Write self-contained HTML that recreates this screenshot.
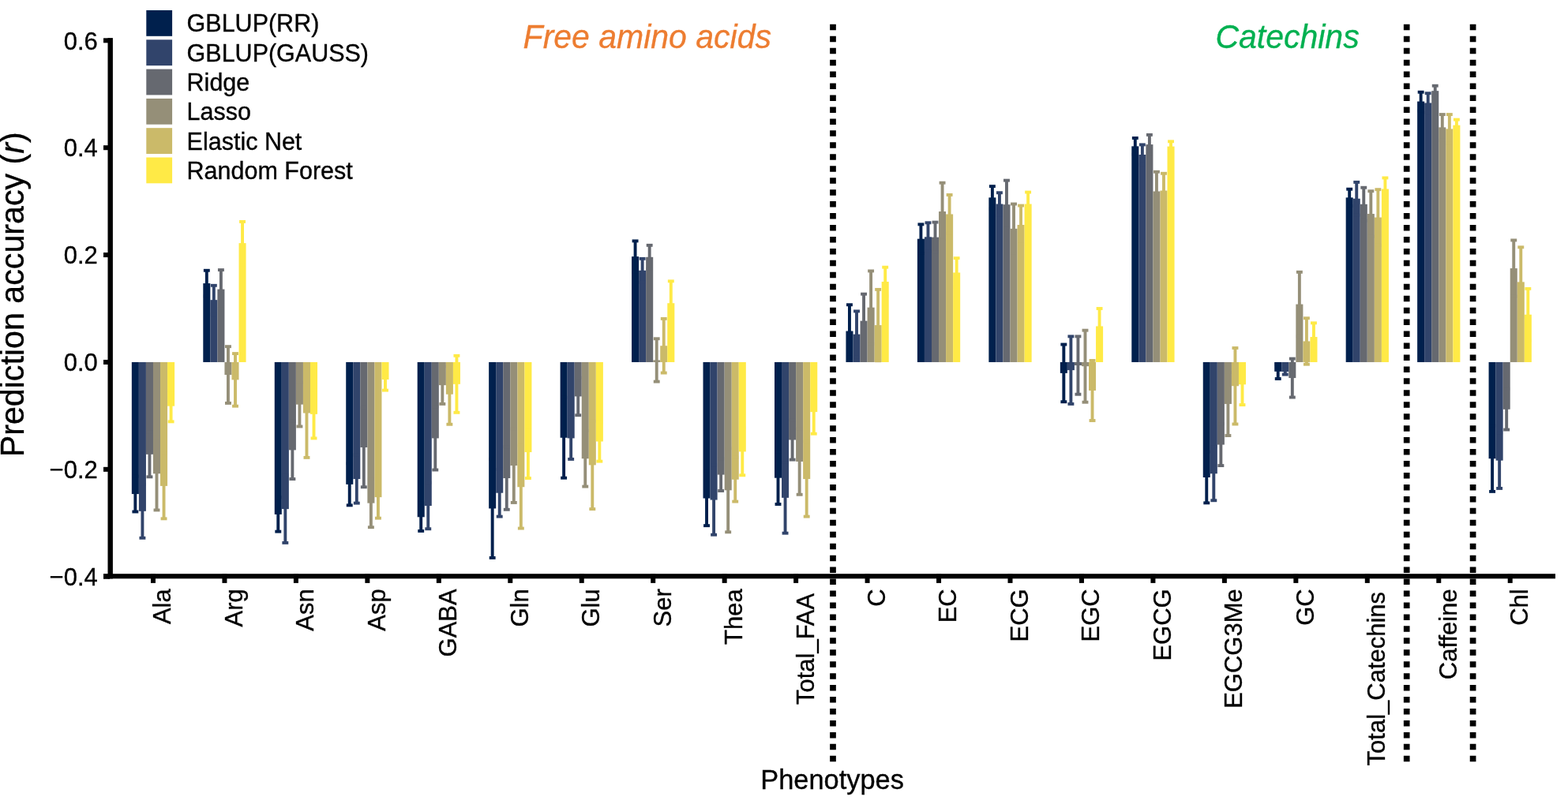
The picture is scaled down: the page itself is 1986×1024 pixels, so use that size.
<!DOCTYPE html>
<html><head><meta charset="utf-8"><title>Prediction accuracy</title>
<style>html,body{margin:0;padding:0;background:#fff;}svg{display:block;}text{font-family:"Liberation Sans",Arial,Helvetica,sans-serif;}</style></head><body>
<svg width="1986" height="1024" viewBox="0 0 1986 1024">
<rect x="0" y="0" width="1986" height="1024" fill="#fff"/>
<g>
<rect x="166.84" y="458.95" width="9.05" height="167.13" fill="#00204D"/>
<rect x="175.88" y="458.95" width="9.05" height="188.87" fill="#31446B"/>
<rect x="184.93" y="458.95" width="9.05" height="116.86" fill="#666970"/>
<rect x="193.98" y="458.95" width="9.05" height="141.32" fill="#958F78"/>
<rect x="203.02" y="458.95" width="9.05" height="156.94" fill="#CBBA69"/>
<rect x="212.07" y="458.95" width="9.05" height="55.71" fill="#FFEA46"/>
<rect x="257.3" y="359.08" width="9.05" height="99.87" fill="#00204D"/>
<rect x="266.34" y="380.14" width="9.05" height="78.81" fill="#31446B"/>
<rect x="275.39" y="366.55" width="9.05" height="92.4" fill="#666970"/>
<rect x="284.44" y="458.95" width="9.05" height="16.1" fill="#958F78"/>
<rect x="293.48" y="458.95" width="9.05" height="22.42" fill="#CBBA69"/>
<rect x="302.53" y="308.12" width="9.05" height="150.83" fill="#FFEA46"/>
<rect x="347.76" y="458.95" width="9.05" height="192.95" fill="#00204D"/>
<rect x="356.8" y="458.95" width="9.05" height="186.16" fill="#31446B"/>
<rect x="365.85" y="458.95" width="9.05" height="111.42" fill="#666970"/>
<rect x="374.9" y="458.95" width="9.05" height="53.67" fill="#958F78"/>
<rect x="383.94" y="458.95" width="9.05" height="64.54" fill="#CBBA69"/>
<rect x="392.99" y="458.95" width="9.05" height="65.9" fill="#FFEA46"/>
<rect x="438.22" y="458.95" width="9.05" height="154.9" fill="#00204D"/>
<rect x="447.26" y="458.95" width="9.05" height="148.11" fill="#31446B"/>
<rect x="456.31" y="458.95" width="9.05" height="108.02" fill="#666970"/>
<rect x="465.36" y="458.95" width="9.05" height="178.68" fill="#958F78"/>
<rect x="474.4" y="458.95" width="9.05" height="171.21" fill="#CBBA69"/>
<rect x="483.45" y="458.95" width="9.05" height="22.08" fill="#FFEA46"/>
<rect x="528.68" y="458.95" width="9.05" height="196.35" fill="#00204D"/>
<rect x="537.72" y="458.95" width="9.05" height="182.08" fill="#31446B"/>
<rect x="546.77" y="458.95" width="9.05" height="96.47" fill="#666970"/>
<rect x="555.82" y="458.95" width="9.05" height="29.21" fill="#958F78"/>
<rect x="564.86" y="458.95" width="9.05" height="40.76" fill="#CBBA69"/>
<rect x="573.91" y="458.95" width="9.05" height="27.86" fill="#FFEA46"/>
<rect x="619.14" y="458.95" width="9.05" height="185.48" fill="#00204D"/>
<rect x="628.18" y="458.95" width="9.05" height="165.77" fill="#31446B"/>
<rect x="637.23" y="458.95" width="9.05" height="147.09" fill="#666970"/>
<rect x="646.28" y="458.95" width="9.05" height="131.12" fill="#958F78"/>
<rect x="655.32" y="458.95" width="9.05" height="158.3" fill="#CBBA69"/>
<rect x="664.37" y="458.95" width="9.05" height="114.14" fill="#FFEA46"/>
<rect x="709.6" y="458.95" width="9.05" height="95.8" fill="#00204D"/>
<rect x="718.64" y="458.95" width="9.05" height="96.47" fill="#31446B"/>
<rect x="727.69" y="458.95" width="9.05" height="43.48" fill="#666970"/>
<rect x="736.74" y="458.95" width="9.05" height="122.29" fill="#958F78"/>
<rect x="745.78" y="458.95" width="9.05" height="130.44" fill="#CBBA69"/>
<rect x="754.83" y="458.95" width="9.05" height="100.55" fill="#FFEA46"/>
<rect x="800.06" y="325.11" width="9.05" height="133.84" fill="#00204D"/>
<rect x="809.1" y="342.77" width="9.05" height="116.18" fill="#31446B"/>
<rect x="818.15" y="325.79" width="9.05" height="133.16" fill="#666970"/>
<rect x="827.2" y="456.44" width="9.05" height="2.51" fill="#958F78"/>
<rect x="836.24" y="438.23" width="9.05" height="20.72" fill="#CBBA69"/>
<rect x="845.29" y="384.22" width="9.05" height="74.73" fill="#FFEA46"/>
<rect x="890.52" y="458.95" width="9.05" height="172.57" fill="#00204D"/>
<rect x="899.56" y="458.95" width="9.05" height="174.61" fill="#31446B"/>
<rect x="908.61" y="458.95" width="9.05" height="142.67" fill="#666970"/>
<rect x="917.66" y="458.95" width="9.05" height="162.38" fill="#958F78"/>
<rect x="926.7" y="458.95" width="9.05" height="148.79" fill="#CBBA69"/>
<rect x="935.75" y="458.95" width="9.05" height="113.46" fill="#FFEA46"/>
<rect x="980.98" y="458.95" width="9.05" height="146.75" fill="#00204D"/>
<rect x="990.02" y="458.95" width="9.05" height="171.89" fill="#31446B"/>
<rect x="999.07" y="458.95" width="9.05" height="98.51" fill="#666970"/>
<rect x="1008.12" y="458.95" width="9.05" height="126.03" fill="#958F78"/>
<rect x="1017.16" y="458.95" width="9.05" height="148.11" fill="#CBBA69"/>
<rect x="1026.21" y="458.95" width="9.05" height="63.18" fill="#FFEA46"/>
<rect x="1071.44" y="419.54" width="9.05" height="39.41" fill="#00204D"/>
<rect x="1080.48" y="423.62" width="9.05" height="35.33" fill="#31446B"/>
<rect x="1089.53" y="406.64" width="9.05" height="52.31" fill="#666970"/>
<rect x="1098.58" y="389.65" width="9.05" height="69.3" fill="#958F78"/>
<rect x="1107.62" y="412.07" width="9.05" height="46.88" fill="#CBBA69"/>
<rect x="1116.67" y="357.04" width="9.05" height="101.91" fill="#FFEA46"/>
<rect x="1161.9" y="302.69" width="9.05" height="156.26" fill="#00204D"/>
<rect x="1170.94" y="300.31" width="9.05" height="158.64" fill="#31446B"/>
<rect x="1179.99" y="300.65" width="9.05" height="158.3" fill="#666970"/>
<rect x="1189.04" y="268.04" width="9.05" height="190.91" fill="#958F78"/>
<rect x="1198.08" y="271.44" width="9.05" height="187.51" fill="#CBBA69"/>
<rect x="1207.13" y="345.49" width="9.05" height="113.46" fill="#FFEA46"/>
<rect x="1252.36" y="250.37" width="9.05" height="208.58" fill="#00204D"/>
<rect x="1261.4" y="258.53" width="9.05" height="200.42" fill="#31446B"/>
<rect x="1270.45" y="259.21" width="9.05" height="199.74" fill="#666970"/>
<rect x="1279.5" y="289.78" width="9.05" height="169.17" fill="#958F78"/>
<rect x="1288.54" y="285.02" width="9.05" height="173.93" fill="#CBBA69"/>
<rect x="1297.59" y="258.53" width="9.05" height="200.42" fill="#FFEA46"/>
<rect x="1342.82" y="458.95" width="9.05" height="13.93" fill="#00204D"/>
<rect x="1351.86" y="458.95" width="9.05" height="10.19" fill="#31446B"/>
<rect x="1360.91" y="458.95" width="9.05" height="4.08" fill="#666970"/>
<rect x="1369.96" y="458.95" width="9.05" height="5.23" fill="#958F78"/>
<rect x="1379" y="458.95" width="9.05" height="36.01" fill="#CBBA69"/>
<rect x="1388.05" y="413.43" width="9.05" height="45.52" fill="#FFEA46"/>
<rect x="1433.28" y="185.36" width="9.05" height="273.59" fill="#00204D"/>
<rect x="1442.32" y="196.02" width="9.05" height="262.93" fill="#31446B"/>
<rect x="1451.37" y="183.11" width="9.05" height="275.84" fill="#666970"/>
<rect x="1460.42" y="242.49" width="9.05" height="216.46" fill="#958F78"/>
<rect x="1469.46" y="241.54" width="9.05" height="217.41" fill="#CBBA69"/>
<rect x="1478.51" y="185.56" width="9.05" height="273.39" fill="#FFEA46"/>
<rect x="1523.74" y="458.95" width="9.05" height="146.07" fill="#00204D"/>
<rect x="1532.78" y="458.95" width="9.05" height="141.32" fill="#31446B"/>
<rect x="1541.83" y="458.95" width="9.05" height="104.63" fill="#666970"/>
<rect x="1550.88" y="458.95" width="9.05" height="52.99" fill="#958F78"/>
<rect x="1559.92" y="458.95" width="9.05" height="30.3" fill="#CBBA69"/>
<rect x="1568.97" y="458.95" width="9.05" height="28.33" fill="#FFEA46"/>
<rect x="1614.2" y="458.95" width="9.05" height="11.89" fill="#00204D"/>
<rect x="1623.24" y="458.95" width="9.05" height="12.23" fill="#31446B"/>
<rect x="1632.29" y="458.95" width="9.05" height="20.11" fill="#666970"/>
<rect x="1641.34" y="385.57" width="9.05" height="73.38" fill="#958F78"/>
<rect x="1650.38" y="432.45" width="9.05" height="26.5" fill="#CBBA69"/>
<rect x="1659.43" y="427.02" width="9.05" height="31.93" fill="#FFEA46"/>
<rect x="1704.66" y="250.37" width="9.05" height="208.58" fill="#00204D"/>
<rect x="1713.7" y="251.73" width="9.05" height="207.22" fill="#31446B"/>
<rect x="1722.75" y="258.8" width="9.05" height="200.15" fill="#666970"/>
<rect x="1731.8" y="271.03" width="9.05" height="187.92" fill="#958F78"/>
<rect x="1740.84" y="275.51" width="9.05" height="183.44" fill="#CBBA69"/>
<rect x="1749.89" y="239.5" width="9.05" height="219.45" fill="#FFEA46"/>
<rect x="1795.12" y="128.56" width="9.05" height="330.39" fill="#00204D"/>
<rect x="1804.16" y="130.46" width="9.05" height="328.49" fill="#31446B"/>
<rect x="1813.21" y="115.17" width="9.05" height="343.78" fill="#666970"/>
<rect x="1822.26" y="161.37" width="9.05" height="297.58" fill="#958F78"/>
<rect x="1831.3" y="163.41" width="9.05" height="295.54" fill="#CBBA69"/>
<rect x="1840.35" y="158.66" width="9.05" height="300.29" fill="#FFEA46"/>
<rect x="1885.58" y="458.95" width="9.05" height="122.29" fill="#00204D"/>
<rect x="1894.62" y="458.95" width="9.05" height="124.67" fill="#31446B"/>
<rect x="1903.67" y="458.95" width="9.05" height="59.79" fill="#666970"/>
<rect x="1912.72" y="340.06" width="9.05" height="118.89" fill="#958F78"/>
<rect x="1921.76" y="357.38" width="9.05" height="101.57" fill="#CBBA69"/>
<rect x="1930.81" y="398.69" width="9.05" height="60.26" fill="#FFEA46"/>
</g>
<g>
<rect x="169.41" y="603.66" width="3.9" height="44.84" fill="#00204D"/>
<rect x="167.41" y="601.71" width="7.9" height="3.9" fill="#00204D"/>
<rect x="167.41" y="646.55" width="7.9" height="3.9" fill="#00204D"/>
<rect x="178.46" y="613.85" width="3.9" height="67.94" fill="#31446B"/>
<rect x="176.46" y="611.9" width="7.9" height="3.9" fill="#31446B"/>
<rect x="176.46" y="679.84" width="7.9" height="3.9" fill="#31446B"/>
<rect x="187.5" y="547.27" width="3.9" height="57.07" fill="#666970"/>
<rect x="185.5" y="545.32" width="7.9" height="3.9" fill="#666970"/>
<rect x="185.5" y="602.39" width="7.9" height="3.9" fill="#666970"/>
<rect x="196.55" y="554.07" width="3.9" height="92.4" fill="#958F78"/>
<rect x="194.55" y="552.12" width="7.9" height="3.9" fill="#958F78"/>
<rect x="194.55" y="644.51" width="7.9" height="3.9" fill="#958F78"/>
<rect x="205.59" y="574.45" width="3.9" height="82.89" fill="#CBBA69"/>
<rect x="203.59" y="572.5" width="7.9" height="3.9" fill="#CBBA69"/>
<rect x="203.59" y="655.38" width="7.9" height="3.9" fill="#CBBA69"/>
<rect x="214.64" y="494.96" width="3.9" height="39.41" fill="#FFEA46"/>
<rect x="212.64" y="493.01" width="7.9" height="3.9" fill="#FFEA46"/>
<rect x="212.64" y="532.41" width="7.9" height="3.9" fill="#FFEA46"/>
<rect x="259.87" y="342.77" width="3.9" height="32.61" fill="#00204D"/>
<rect x="257.87" y="340.82" width="7.9" height="3.9" fill="#00204D"/>
<rect x="257.87" y="373.43" width="7.9" height="3.9" fill="#00204D"/>
<rect x="268.92" y="361.8" width="3.9" height="36.69" fill="#31446B"/>
<rect x="266.92" y="359.85" width="7.9" height="3.9" fill="#31446B"/>
<rect x="266.92" y="396.53" width="7.9" height="3.9" fill="#31446B"/>
<rect x="277.96" y="342.09" width="3.9" height="48.92" fill="#666970"/>
<rect x="275.96" y="340.14" width="7.9" height="3.9" fill="#666970"/>
<rect x="275.96" y="389.06" width="7.9" height="3.9" fill="#666970"/>
<rect x="287.01" y="439.18" width="3.9" height="71.74" fill="#958F78"/>
<rect x="285.01" y="437.23" width="7.9" height="3.9" fill="#958F78"/>
<rect x="285.01" y="508.97" width="7.9" height="3.9" fill="#958F78"/>
<rect x="296.06" y="448.08" width="3.9" height="66.58" fill="#CBBA69"/>
<rect x="294.06" y="446.13" width="7.9" height="3.9" fill="#CBBA69"/>
<rect x="294.06" y="512.71" width="7.9" height="3.9" fill="#CBBA69"/>
<rect x="305.1" y="280.95" width="3.9" height="54.35" fill="#FFEA46"/>
<rect x="303.1" y="279" width="7.9" height="3.9" fill="#FFEA46"/>
<rect x="303.1" y="333.35" width="7.9" height="3.9" fill="#FFEA46"/>
<rect x="350.33" y="630.16" width="3.9" height="43.48" fill="#00204D"/>
<rect x="348.33" y="628.21" width="7.9" height="3.9" fill="#00204D"/>
<rect x="348.33" y="671.69" width="7.9" height="3.9" fill="#00204D"/>
<rect x="359.38" y="602.3" width="3.9" height="85.6" fill="#31446B"/>
<rect x="357.38" y="600.35" width="7.9" height="3.9" fill="#31446B"/>
<rect x="357.38" y="685.96" width="7.9" height="3.9" fill="#31446B"/>
<rect x="368.42" y="533.68" width="3.9" height="73.38" fill="#666970"/>
<rect x="366.42" y="531.73" width="7.9" height="3.9" fill="#666970"/>
<rect x="366.42" y="605.11" width="7.9" height="3.9" fill="#666970"/>
<rect x="377.47" y="484.77" width="3.9" height="55.71" fill="#958F78"/>
<rect x="375.47" y="482.82" width="7.9" height="3.9" fill="#958F78"/>
<rect x="375.47" y="538.53" width="7.9" height="3.9" fill="#958F78"/>
<rect x="386.52" y="467.1" width="3.9" height="112.78" fill="#CBBA69"/>
<rect x="384.52" y="465.15" width="7.9" height="3.9" fill="#CBBA69"/>
<rect x="384.52" y="577.93" width="7.9" height="3.9" fill="#CBBA69"/>
<rect x="395.56" y="494.28" width="3.9" height="61.15" fill="#FFEA46"/>
<rect x="393.56" y="492.33" width="7.9" height="3.9" fill="#FFEA46"/>
<rect x="393.56" y="553.47" width="7.9" height="3.9" fill="#FFEA46"/>
<rect x="440.79" y="587.36" width="3.9" height="52.99" fill="#00204D"/>
<rect x="438.79" y="585.41" width="7.9" height="3.9" fill="#00204D"/>
<rect x="438.79" y="638.4" width="7.9" height="3.9" fill="#00204D"/>
<rect x="449.84" y="576.49" width="3.9" height="61.15" fill="#31446B"/>
<rect x="447.84" y="574.54" width="7.9" height="3.9" fill="#31446B"/>
<rect x="447.84" y="635.68" width="7.9" height="3.9" fill="#31446B"/>
<rect x="458.88" y="516.7" width="3.9" height="100.55" fill="#666970"/>
<rect x="456.88" y="514.75" width="7.9" height="3.9" fill="#666970"/>
<rect x="456.88" y="615.3" width="7.9" height="3.9" fill="#666970"/>
<rect x="467.93" y="607.06" width="3.9" height="61.15" fill="#958F78"/>
<rect x="465.93" y="605.11" width="7.9" height="3.9" fill="#958F78"/>
<rect x="465.93" y="666.26" width="7.9" height="3.9" fill="#958F78"/>
<rect x="476.98" y="603.66" width="3.9" height="52.99" fill="#CBBA69"/>
<rect x="474.98" y="601.71" width="7.9" height="3.9" fill="#CBBA69"/>
<rect x="474.98" y="654.71" width="7.9" height="3.9" fill="#CBBA69"/>
<rect x="486.02" y="467.44" width="3.9" height="27.18" fill="#FFEA46"/>
<rect x="484.02" y="465.49" width="7.9" height="3.9" fill="#FFEA46"/>
<rect x="484.02" y="492.67" width="7.9" height="3.9" fill="#FFEA46"/>
<rect x="531.25" y="637.63" width="3.9" height="35.33" fill="#00204D"/>
<rect x="529.25" y="635.68" width="7.9" height="3.9" fill="#00204D"/>
<rect x="529.25" y="671.01" width="7.9" height="3.9" fill="#00204D"/>
<rect x="540.3" y="611.82" width="3.9" height="58.43" fill="#31446B"/>
<rect x="538.3" y="609.87" width="7.9" height="3.9" fill="#31446B"/>
<rect x="538.3" y="668.29" width="7.9" height="3.9" fill="#31446B"/>
<rect x="549.34" y="515.34" width="3.9" height="80.17" fill="#666970"/>
<rect x="547.34" y="513.39" width="7.9" height="3.9" fill="#666970"/>
<rect x="547.34" y="593.56" width="7.9" height="3.9" fill="#666970"/>
<rect x="558.39" y="464.39" width="3.9" height="47.56" fill="#958F78"/>
<rect x="556.39" y="462.44" width="7.9" height="3.9" fill="#958F78"/>
<rect x="556.39" y="509.99" width="7.9" height="3.9" fill="#958F78"/>
<rect x="567.43" y="461.67" width="3.9" height="76.09" fill="#CBBA69"/>
<rect x="565.43" y="459.72" width="7.9" height="3.9" fill="#CBBA69"/>
<rect x="565.43" y="535.81" width="7.9" height="3.9" fill="#CBBA69"/>
<rect x="576.48" y="450.8" width="3.9" height="72.02" fill="#FFEA46"/>
<rect x="574.48" y="448.85" width="7.9" height="3.9" fill="#FFEA46"/>
<rect x="574.48" y="520.86" width="7.9" height="3.9" fill="#FFEA46"/>
<rect x="621.71" y="581.92" width="3.9" height="125.01" fill="#00204D"/>
<rect x="619.71" y="579.97" width="7.9" height="3.9" fill="#00204D"/>
<rect x="619.71" y="704.98" width="7.9" height="3.9" fill="#00204D"/>
<rect x="630.76" y="594.83" width="3.9" height="59.79" fill="#31446B"/>
<rect x="628.76" y="592.88" width="7.9" height="3.9" fill="#31446B"/>
<rect x="628.76" y="652.67" width="7.9" height="3.9" fill="#31446B"/>
<rect x="639.8" y="566.3" width="3.9" height="79.49" fill="#666970"/>
<rect x="637.8" y="564.35" width="7.9" height="3.9" fill="#666970"/>
<rect x="637.8" y="643.83" width="7.9" height="3.9" fill="#666970"/>
<rect x="648.85" y="543.2" width="3.9" height="93.76" fill="#958F78"/>
<rect x="646.85" y="541.25" width="7.9" height="3.9" fill="#958F78"/>
<rect x="646.85" y="635" width="7.9" height="3.9" fill="#958F78"/>
<rect x="657.89" y="564.94" width="3.9" height="104.63" fill="#CBBA69"/>
<rect x="655.89" y="562.99" width="7.9" height="3.9" fill="#CBBA69"/>
<rect x="655.89" y="667.61" width="7.9" height="3.9" fill="#CBBA69"/>
<rect x="666.94" y="540.14" width="3.9" height="65.9" fill="#FFEA46"/>
<rect x="664.94" y="538.19" width="7.9" height="3.9" fill="#FFEA46"/>
<rect x="664.94" y="604.09" width="7.9" height="3.9" fill="#FFEA46"/>
<rect x="712.17" y="503.79" width="3.9" height="101.91" fill="#00204D"/>
<rect x="710.17" y="501.84" width="7.9" height="3.9" fill="#00204D"/>
<rect x="710.17" y="603.75" width="7.9" height="3.9" fill="#00204D"/>
<rect x="721.22" y="528.93" width="3.9" height="52.99" fill="#31446B"/>
<rect x="719.22" y="526.98" width="7.9" height="3.9" fill="#31446B"/>
<rect x="719.22" y="579.97" width="7.9" height="3.9" fill="#31446B"/>
<rect x="730.26" y="478.65" width="3.9" height="47.56" fill="#666970"/>
<rect x="728.26" y="476.7" width="7.9" height="3.9" fill="#666970"/>
<rect x="728.26" y="524.26" width="7.9" height="3.9" fill="#666970"/>
<rect x="739.31" y="545.91" width="3.9" height="70.66" fill="#958F78"/>
<rect x="737.31" y="543.96" width="7.9" height="3.9" fill="#958F78"/>
<rect x="737.31" y="614.62" width="7.9" height="3.9" fill="#958F78"/>
<rect x="748.35" y="533.68" width="3.9" height="111.42" fill="#CBBA69"/>
<rect x="746.35" y="531.73" width="7.9" height="3.9" fill="#CBBA69"/>
<rect x="746.35" y="643.16" width="7.9" height="3.9" fill="#CBBA69"/>
<rect x="757.4" y="534.36" width="3.9" height="50.28" fill="#FFEA46"/>
<rect x="755.4" y="532.41" width="7.9" height="3.9" fill="#FFEA46"/>
<rect x="755.4" y="582.69" width="7.9" height="3.9" fill="#FFEA46"/>
<rect x="802.63" y="305.41" width="3.9" height="39.41" fill="#00204D"/>
<rect x="800.63" y="303.46" width="7.9" height="3.9" fill="#00204D"/>
<rect x="800.63" y="342.86" width="7.9" height="3.9" fill="#00204D"/>
<rect x="811.68" y="327.83" width="3.9" height="29.89" fill="#31446B"/>
<rect x="809.68" y="325.88" width="7.9" height="3.9" fill="#31446B"/>
<rect x="809.68" y="355.77" width="7.9" height="3.9" fill="#31446B"/>
<rect x="820.72" y="310.84" width="3.9" height="29.89" fill="#666970"/>
<rect x="818.72" y="308.89" width="7.9" height="3.9" fill="#666970"/>
<rect x="818.72" y="338.78" width="7.9" height="3.9" fill="#666970"/>
<rect x="829.77" y="429.26" width="3.9" height="54.35" fill="#958F78"/>
<rect x="827.77" y="427.31" width="7.9" height="3.9" fill="#958F78"/>
<rect x="827.77" y="481.66" width="7.9" height="3.9" fill="#958F78"/>
<rect x="838.81" y="403.92" width="3.9" height="68.62" fill="#CBBA69"/>
<rect x="836.81" y="401.97" width="7.9" height="3.9" fill="#CBBA69"/>
<rect x="836.81" y="470.59" width="7.9" height="3.9" fill="#CBBA69"/>
<rect x="847.86" y="356.36" width="3.9" height="55.71" fill="#FFEA46"/>
<rect x="845.86" y="354.41" width="7.9" height="3.9" fill="#FFEA46"/>
<rect x="845.86" y="410.12" width="7.9" height="3.9" fill="#FFEA46"/>
<rect x="893.09" y="596.87" width="3.9" height="69.3" fill="#00204D"/>
<rect x="891.09" y="594.92" width="7.9" height="3.9" fill="#00204D"/>
<rect x="891.09" y="664.22" width="7.9" height="3.9" fill="#00204D"/>
<rect x="902.14" y="589.39" width="3.9" height="88.32" fill="#31446B"/>
<rect x="900.14" y="587.44" width="7.9" height="3.9" fill="#31446B"/>
<rect x="900.14" y="675.77" width="7.9" height="3.9" fill="#31446B"/>
<rect x="911.18" y="581.24" width="3.9" height="40.76" fill="#666970"/>
<rect x="909.18" y="579.29" width="7.9" height="3.9" fill="#666970"/>
<rect x="909.18" y="620.06" width="7.9" height="3.9" fill="#666970"/>
<rect x="920.23" y="568.33" width="3.9" height="105.99" fill="#958F78"/>
<rect x="918.23" y="566.38" width="7.9" height="3.9" fill="#958F78"/>
<rect x="918.23" y="672.37" width="7.9" height="3.9" fill="#958F78"/>
<rect x="929.27" y="579.88" width="3.9" height="55.71" fill="#CBBA69"/>
<rect x="927.27" y="577.93" width="7.9" height="3.9" fill="#CBBA69"/>
<rect x="927.27" y="633.64" width="7.9" height="3.9" fill="#CBBA69"/>
<rect x="938.32" y="542.52" width="3.9" height="59.79" fill="#FFEA46"/>
<rect x="936.32" y="540.57" width="7.9" height="3.9" fill="#FFEA46"/>
<rect x="936.32" y="600.35" width="7.9" height="3.9" fill="#FFEA46"/>
<rect x="983.55" y="572.41" width="3.9" height="66.58" fill="#00204D"/>
<rect x="981.55" y="570.46" width="7.9" height="3.9" fill="#00204D"/>
<rect x="981.55" y="637.04" width="7.9" height="3.9" fill="#00204D"/>
<rect x="992.6" y="586" width="3.9" height="89.68" fill="#31446B"/>
<rect x="990.6" y="584.05" width="7.9" height="3.9" fill="#31446B"/>
<rect x="990.6" y="673.73" width="7.9" height="3.9" fill="#31446B"/>
<rect x="1001.64" y="532.33" width="3.9" height="50.28" fill="#666970"/>
<rect x="999.64" y="530.38" width="7.9" height="3.9" fill="#666970"/>
<rect x="999.64" y="580.65" width="7.9" height="3.9" fill="#666970"/>
<rect x="1010.69" y="543.2" width="3.9" height="83.57" fill="#958F78"/>
<rect x="1008.69" y="541.25" width="7.9" height="3.9" fill="#958F78"/>
<rect x="1008.69" y="624.81" width="7.9" height="3.9" fill="#958F78"/>
<rect x="1019.73" y="559.5" width="3.9" height="95.12" fill="#CBBA69"/>
<rect x="1017.73" y="557.55" width="7.9" height="3.9" fill="#CBBA69"/>
<rect x="1017.73" y="652.67" width="7.9" height="3.9" fill="#CBBA69"/>
<rect x="1028.78" y="494.55" width="3.9" height="55.17" fill="#FFEA46"/>
<rect x="1026.78" y="492.6" width="7.9" height="3.9" fill="#FFEA46"/>
<rect x="1026.78" y="547.77" width="7.9" height="3.9" fill="#FFEA46"/>
<rect x="1074.01" y="386.25" width="3.9" height="66.58" fill="#00204D"/>
<rect x="1072.01" y="384.3" width="7.9" height="3.9" fill="#00204D"/>
<rect x="1072.01" y="450.89" width="7.9" height="3.9" fill="#00204D"/>
<rect x="1083.06" y="394.41" width="3.9" height="58.43" fill="#31446B"/>
<rect x="1081.06" y="392.46" width="7.9" height="3.9" fill="#31446B"/>
<rect x="1081.06" y="450.89" width="7.9" height="3.9" fill="#31446B"/>
<rect x="1092.1" y="372.67" width="3.9" height="67.94" fill="#666970"/>
<rect x="1090.1" y="370.72" width="7.9" height="3.9" fill="#666970"/>
<rect x="1090.1" y="438.66" width="7.9" height="3.9" fill="#666970"/>
<rect x="1101.15" y="343.45" width="3.9" height="92.4" fill="#958F78"/>
<rect x="1099.15" y="341.5" width="7.9" height="3.9" fill="#958F78"/>
<rect x="1099.15" y="433.9" width="7.9" height="3.9" fill="#958F78"/>
<rect x="1110.19" y="366.89" width="3.9" height="90.36" fill="#CBBA69"/>
<rect x="1108.19" y="364.94" width="7.9" height="3.9" fill="#CBBA69"/>
<rect x="1108.19" y="455.3" width="7.9" height="3.9" fill="#CBBA69"/>
<rect x="1119.24" y="338.7" width="3.9" height="36.69" fill="#FFEA46"/>
<rect x="1117.24" y="336.75" width="7.9" height="3.9" fill="#FFEA46"/>
<rect x="1117.24" y="373.43" width="7.9" height="3.9" fill="#FFEA46"/>
<rect x="1164.47" y="284.34" width="3.9" height="36.69" fill="#00204D"/>
<rect x="1162.47" y="282.39" width="7.9" height="3.9" fill="#00204D"/>
<rect x="1162.47" y="319.08" width="7.9" height="3.9" fill="#00204D"/>
<rect x="1173.52" y="282.31" width="3.9" height="36.01" fill="#31446B"/>
<rect x="1171.52" y="280.36" width="7.9" height="3.9" fill="#31446B"/>
<rect x="1171.52" y="316.36" width="7.9" height="3.9" fill="#31446B"/>
<rect x="1182.56" y="281.63" width="3.9" height="38.05" fill="#666970"/>
<rect x="1180.56" y="279.68" width="7.9" height="3.9" fill="#666970"/>
<rect x="1180.56" y="317.72" width="7.9" height="3.9" fill="#666970"/>
<rect x="1191.61" y="231.69" width="3.9" height="72.7" fill="#958F78"/>
<rect x="1189.61" y="229.74" width="7.9" height="3.9" fill="#958F78"/>
<rect x="1189.61" y="302.44" width="7.9" height="3.9" fill="#958F78"/>
<rect x="1200.65" y="246.98" width="3.9" height="48.92" fill="#CBBA69"/>
<rect x="1198.65" y="245.03" width="7.9" height="3.9" fill="#CBBA69"/>
<rect x="1198.65" y="293.94" width="7.9" height="3.9" fill="#CBBA69"/>
<rect x="1209.7" y="327.15" width="3.9" height="36.69" fill="#FFEA46"/>
<rect x="1207.7" y="325.2" width="7.9" height="3.9" fill="#FFEA46"/>
<rect x="1207.7" y="361.88" width="7.9" height="3.9" fill="#FFEA46"/>
<rect x="1254.93" y="236.11" width="3.9" height="28.53" fill="#00204D"/>
<rect x="1252.93" y="234.16" width="7.9" height="3.9" fill="#00204D"/>
<rect x="1252.93" y="262.69" width="7.9" height="3.9" fill="#00204D"/>
<rect x="1263.98" y="244.26" width="3.9" height="28.53" fill="#31446B"/>
<rect x="1261.98" y="242.31" width="7.9" height="3.9" fill="#31446B"/>
<rect x="1261.98" y="270.84" width="7.9" height="3.9" fill="#31446B"/>
<rect x="1273.02" y="228.63" width="3.9" height="61.15" fill="#666970"/>
<rect x="1271.02" y="226.68" width="7.9" height="3.9" fill="#666970"/>
<rect x="1271.02" y="287.83" width="7.9" height="3.9" fill="#666970"/>
<rect x="1282.07" y="258.53" width="3.9" height="62.5" fill="#958F78"/>
<rect x="1280.07" y="256.58" width="7.9" height="3.9" fill="#958F78"/>
<rect x="1280.07" y="319.08" width="7.9" height="3.9" fill="#958F78"/>
<rect x="1291.11" y="260.57" width="3.9" height="48.92" fill="#CBBA69"/>
<rect x="1289.11" y="258.62" width="7.9" height="3.9" fill="#CBBA69"/>
<rect x="1289.11" y="307.53" width="7.9" height="3.9" fill="#CBBA69"/>
<rect x="1300.16" y="243.58" width="3.9" height="29.89" fill="#FFEA46"/>
<rect x="1298.16" y="241.63" width="7.9" height="3.9" fill="#FFEA46"/>
<rect x="1298.16" y="271.52" width="7.9" height="3.9" fill="#FFEA46"/>
<rect x="1345.39" y="436.53" width="3.9" height="72.7" fill="#00204D"/>
<rect x="1343.39" y="434.58" width="7.9" height="3.9" fill="#00204D"/>
<rect x="1343.39" y="507.28" width="7.9" height="3.9" fill="#00204D"/>
<rect x="1354.44" y="426.34" width="3.9" height="85.6" fill="#31446B"/>
<rect x="1352.44" y="424.39" width="7.9" height="3.9" fill="#31446B"/>
<rect x="1352.44" y="509.99" width="7.9" height="3.9" fill="#31446B"/>
<rect x="1363.48" y="426.34" width="3.9" height="73.38" fill="#666970"/>
<rect x="1361.48" y="424.39" width="7.9" height="3.9" fill="#666970"/>
<rect x="1361.48" y="497.76" width="7.9" height="3.9" fill="#666970"/>
<rect x="1372.53" y="418.66" width="3.9" height="91.04" fill="#958F78"/>
<rect x="1370.53" y="416.71" width="7.9" height="3.9" fill="#958F78"/>
<rect x="1370.53" y="507.75" width="7.9" height="3.9" fill="#958F78"/>
<rect x="1381.57" y="456.91" width="3.9" height="76.09" fill="#CBBA69"/>
<rect x="1379.57" y="454.96" width="7.9" height="3.9" fill="#CBBA69"/>
<rect x="1379.57" y="531.05" width="7.9" height="3.9" fill="#CBBA69"/>
<rect x="1390.62" y="391.01" width="3.9" height="44.84" fill="#FFEA46"/>
<rect x="1388.62" y="389.06" width="7.9" height="3.9" fill="#FFEA46"/>
<rect x="1388.62" y="433.9" width="7.9" height="3.9" fill="#FFEA46"/>
<rect x="1435.85" y="174.96" width="3.9" height="20.79" fill="#00204D"/>
<rect x="1433.85" y="173.01" width="7.9" height="3.9" fill="#00204D"/>
<rect x="1433.85" y="193.8" width="7.9" height="3.9" fill="#00204D"/>
<rect x="1444.9" y="183.39" width="3.9" height="25.27" fill="#31446B"/>
<rect x="1442.9" y="181.44" width="7.9" height="3.9" fill="#31446B"/>
<rect x="1442.9" y="206.71" width="7.9" height="3.9" fill="#31446B"/>
<rect x="1453.94" y="170.88" width="3.9" height="24.46" fill="#666970"/>
<rect x="1451.94" y="168.93" width="7.9" height="3.9" fill="#666970"/>
<rect x="1451.94" y="193.39" width="7.9" height="3.9" fill="#666970"/>
<rect x="1462.99" y="217.76" width="3.9" height="49.46" fill="#958F78"/>
<rect x="1460.99" y="215.81" width="7.9" height="3.9" fill="#958F78"/>
<rect x="1460.99" y="265.27" width="7.9" height="3.9" fill="#958F78"/>
<rect x="1472.03" y="219.8" width="3.9" height="43.48" fill="#CBBA69"/>
<rect x="1470.03" y="217.85" width="7.9" height="3.9" fill="#CBBA69"/>
<rect x="1470.03" y="261.33" width="7.9" height="3.9" fill="#CBBA69"/>
<rect x="1481.08" y="179.31" width="3.9" height="12.5" fill="#FFEA46"/>
<rect x="1479.08" y="177.36" width="7.9" height="3.9" fill="#FFEA46"/>
<rect x="1479.08" y="189.86" width="7.9" height="3.9" fill="#FFEA46"/>
<rect x="1526.31" y="572.68" width="3.9" height="64.68" fill="#00204D"/>
<rect x="1524.31" y="570.73" width="7.9" height="3.9" fill="#00204D"/>
<rect x="1524.31" y="635.41" width="7.9" height="3.9" fill="#00204D"/>
<rect x="1535.36" y="566.3" width="3.9" height="67.94" fill="#31446B"/>
<rect x="1533.36" y="564.35" width="7.9" height="3.9" fill="#31446B"/>
<rect x="1533.36" y="632.29" width="7.9" height="3.9" fill="#31446B"/>
<rect x="1544.4" y="537.08" width="3.9" height="52.99" fill="#666970"/>
<rect x="1542.4" y="535.13" width="7.9" height="3.9" fill="#666970"/>
<rect x="1542.4" y="588.12" width="7.9" height="3.9" fill="#666970"/>
<rect x="1553.45" y="471.86" width="3.9" height="80.17" fill="#958F78"/>
<rect x="1551.45" y="469.91" width="7.9" height="3.9" fill="#958F78"/>
<rect x="1551.45" y="550.08" width="7.9" height="3.9" fill="#958F78"/>
<rect x="1562.49" y="441.01" width="3.9" height="96.47" fill="#CBBA69"/>
<rect x="1560.49" y="439.06" width="7.9" height="3.9" fill="#CBBA69"/>
<rect x="1560.49" y="535.54" width="7.9" height="3.9" fill="#CBBA69"/>
<rect x="1571.54" y="461.46" width="3.9" height="51.63" fill="#FFEA46"/>
<rect x="1569.54" y="459.51" width="7.9" height="3.9" fill="#FFEA46"/>
<rect x="1569.54" y="511.15" width="7.9" height="3.9" fill="#FFEA46"/>
<rect x="1616.77" y="461.67" width="3.9" height="18.34" fill="#00204D"/>
<rect x="1614.77" y="459.72" width="7.9" height="3.9" fill="#00204D"/>
<rect x="1614.77" y="478.06" width="7.9" height="3.9" fill="#00204D"/>
<rect x="1625.82" y="467.78" width="3.9" height="6.79" fill="#31446B"/>
<rect x="1623.82" y="465.83" width="7.9" height="3.9" fill="#31446B"/>
<rect x="1623.82" y="472.63" width="7.9" height="3.9" fill="#31446B"/>
<rect x="1634.86" y="454.6" width="3.9" height="48.92" fill="#666970"/>
<rect x="1632.86" y="452.65" width="7.9" height="3.9" fill="#666970"/>
<rect x="1632.86" y="501.57" width="7.9" height="3.9" fill="#666970"/>
<rect x="1643.91" y="344.81" width="3.9" height="81.53" fill="#958F78"/>
<rect x="1641.91" y="342.86" width="7.9" height="3.9" fill="#958F78"/>
<rect x="1641.91" y="424.39" width="7.9" height="3.9" fill="#958F78"/>
<rect x="1652.95" y="403.24" width="3.9" height="58.43" fill="#CBBA69"/>
<rect x="1650.95" y="401.29" width="7.9" height="3.9" fill="#CBBA69"/>
<rect x="1650.95" y="459.72" width="7.9" height="3.9" fill="#CBBA69"/>
<rect x="1662" y="409.35" width="3.9" height="35.33" fill="#FFEA46"/>
<rect x="1660" y="407.4" width="7.9" height="3.9" fill="#FFEA46"/>
<rect x="1660" y="442.73" width="7.9" height="3.9" fill="#FFEA46"/>
<rect x="1707.23" y="239.71" width="3.9" height="21.33" fill="#00204D"/>
<rect x="1705.23" y="237.76" width="7.9" height="3.9" fill="#00204D"/>
<rect x="1705.23" y="259.09" width="7.9" height="3.9" fill="#00204D"/>
<rect x="1716.28" y="230.88" width="3.9" height="41.72" fill="#31446B"/>
<rect x="1714.28" y="228.93" width="7.9" height="3.9" fill="#31446B"/>
<rect x="1714.28" y="270.64" width="7.9" height="3.9" fill="#31446B"/>
<rect x="1725.32" y="237.74" width="3.9" height="42.12" fill="#666970"/>
<rect x="1723.32" y="235.79" width="7.9" height="3.9" fill="#666970"/>
<rect x="1723.32" y="277.91" width="7.9" height="3.9" fill="#666970"/>
<rect x="1734.37" y="242.22" width="3.9" height="57.61" fill="#958F78"/>
<rect x="1732.37" y="240.27" width="7.9" height="3.9" fill="#958F78"/>
<rect x="1732.37" y="297.88" width="7.9" height="3.9" fill="#958F78"/>
<rect x="1743.41" y="240.18" width="3.9" height="70.66" fill="#CBBA69"/>
<rect x="1741.41" y="238.23" width="7.9" height="3.9" fill="#CBBA69"/>
<rect x="1741.41" y="308.89" width="7.9" height="3.9" fill="#CBBA69"/>
<rect x="1752.46" y="225.44" width="3.9" height="28.13" fill="#FFEA46"/>
<rect x="1750.46" y="223.49" width="7.9" height="3.9" fill="#FFEA46"/>
<rect x="1750.46" y="251.62" width="7.9" height="3.9" fill="#FFEA46"/>
<rect x="1797.69" y="116.74" width="3.9" height="23.64" fill="#00204D"/>
<rect x="1795.69" y="114.79" width="7.9" height="3.9" fill="#00204D"/>
<rect x="1795.69" y="138.43" width="7.9" height="3.9" fill="#00204D"/>
<rect x="1806.74" y="118.23" width="3.9" height="24.46" fill="#31446B"/>
<rect x="1804.74" y="116.28" width="7.9" height="3.9" fill="#31446B"/>
<rect x="1804.74" y="140.74" width="7.9" height="3.9" fill="#31446B"/>
<rect x="1815.78" y="108.72" width="3.9" height="12.91" fill="#666970"/>
<rect x="1813.78" y="106.77" width="7.9" height="3.9" fill="#666970"/>
<rect x="1813.78" y="119.68" width="7.9" height="3.9" fill="#666970"/>
<rect x="1824.83" y="145.07" width="3.9" height="32.61" fill="#958F78"/>
<rect x="1822.83" y="143.12" width="7.9" height="3.9" fill="#958F78"/>
<rect x="1822.83" y="175.73" width="7.9" height="3.9" fill="#958F78"/>
<rect x="1833.88" y="145.07" width="3.9" height="36.69" fill="#CBBA69"/>
<rect x="1831.88" y="143.12" width="7.9" height="3.9" fill="#CBBA69"/>
<rect x="1831.88" y="179.8" width="7.9" height="3.9" fill="#CBBA69"/>
<rect x="1842.92" y="151.59" width="3.9" height="14.13" fill="#FFEA46"/>
<rect x="1840.92" y="149.64" width="7.9" height="3.9" fill="#FFEA46"/>
<rect x="1840.92" y="163.77" width="7.9" height="3.9" fill="#FFEA46"/>
<rect x="1888.15" y="539.59" width="3.9" height="83.29" fill="#00204D"/>
<rect x="1886.15" y="537.64" width="7.9" height="3.9" fill="#00204D"/>
<rect x="1886.15" y="620.94" width="7.9" height="3.9" fill="#00204D"/>
<rect x="1897.2" y="548.29" width="3.9" height="70.66" fill="#31446B"/>
<rect x="1895.2" y="546.34" width="7.9" height="3.9" fill="#31446B"/>
<rect x="1895.2" y="617" width="7.9" height="3.9" fill="#31446B"/>
<rect x="1906.24" y="492.92" width="3.9" height="51.63" fill="#666970"/>
<rect x="1904.24" y="490.97" width="7.9" height="3.9" fill="#666970"/>
<rect x="1904.24" y="542.6" width="7.9" height="3.9" fill="#666970"/>
<rect x="1915.29" y="304.45" width="3.9" height="71.2" fill="#958F78"/>
<rect x="1913.29" y="302.5" width="7.9" height="3.9" fill="#958F78"/>
<rect x="1913.29" y="373.71" width="7.9" height="3.9" fill="#958F78"/>
<rect x="1924.34" y="313.29" width="3.9" height="88.19" fill="#CBBA69"/>
<rect x="1922.34" y="311.34" width="7.9" height="3.9" fill="#CBBA69"/>
<rect x="1922.34" y="399.52" width="7.9" height="3.9" fill="#CBBA69"/>
<rect x="1933.38" y="365.87" width="3.9" height="65.63" fill="#FFEA46"/>
<rect x="1931.38" y="363.92" width="7.9" height="3.9" fill="#FFEA46"/>
<rect x="1931.38" y="429.55" width="7.9" height="3.9" fill="#FFEA46"/>
</g>
<line x1="1055.0" y1="30.8" x2="1055.0" y2="965.4" stroke="#000" stroke-width="7.7" stroke-dasharray="7.5 7.452"/>
<line x1="1781.7" y1="30.8" x2="1781.7" y2="965.4" stroke="#000" stroke-width="7.7" stroke-dasharray="7.5 7.452"/>
<line x1="1865.6" y1="30.8" x2="1865.6" y2="965.4" stroke="#000" stroke-width="7.7" stroke-dasharray="7.5 7.452"/>
<g fill="#000">
<rect x="136.5" y="48.1" width="6.4" height="685.3"/>
<rect x="131" y="727.2" width="1839" height="6.1"/>
<rect x="131" y="48.31" width="8" height="6"/>
<rect x="131" y="184.19" width="8" height="6"/>
<rect x="131" y="320.07" width="8" height="6"/>
<rect x="131" y="455.95" width="8" height="6"/>
<rect x="131" y="591.83" width="8" height="6"/>
<rect x="131" y="727.71" width="8" height="6"/>
<rect x="190.98" y="727.5" width="6" height="11.4"/>
<rect x="281.44" y="727.5" width="6" height="11.4"/>
<rect x="371.9" y="727.5" width="6" height="11.4"/>
<rect x="462.36" y="727.5" width="6" height="11.4"/>
<rect x="552.82" y="727.5" width="6" height="11.4"/>
<rect x="643.28" y="727.5" width="6" height="11.4"/>
<rect x="733.74" y="727.5" width="6" height="11.4"/>
<rect x="824.2" y="727.5" width="6" height="11.4"/>
<rect x="914.66" y="727.5" width="6" height="11.4"/>
<rect x="1005.12" y="727.5" width="6" height="11.4"/>
<rect x="1095.58" y="727.5" width="6" height="11.4"/>
<rect x="1186.04" y="727.5" width="6" height="11.4"/>
<rect x="1276.5" y="727.5" width="6" height="11.4"/>
<rect x="1366.96" y="727.5" width="6" height="11.4"/>
<rect x="1457.42" y="727.5" width="6" height="11.4"/>
<rect x="1547.88" y="727.5" width="6" height="11.4"/>
<rect x="1638.34" y="727.5" width="6" height="11.4"/>
<rect x="1728.8" y="727.5" width="6" height="11.4"/>
<rect x="1819.26" y="727.5" width="6" height="11.4"/>
<rect x="1909.72" y="727.5" width="6" height="11.4"/>
</g>
<g fill="#000" stroke="#000" stroke-width="0.35">
<text transform="translate(123.8,62.51) scale(1,1.025)" font-size="31" text-anchor="end">0.6</text>
<text transform="translate(123.8,198.39) scale(1,1.025)" font-size="31" text-anchor="end">0.4</text>
<text transform="translate(123.8,334.27) scale(1,1.025)" font-size="31" text-anchor="end">0.2</text>
<text transform="translate(123.8,470.15) scale(1,1.025)" font-size="31" text-anchor="end">0.0</text>
<text transform="translate(123.8,606.03) scale(1,1.025)" font-size="31" text-anchor="end">−0.2</text>
<text transform="translate(123.8,741.91) scale(1,1.025)" font-size="31" text-anchor="end">−0.4</text>
<text transform="translate(216.38,746.3) rotate(-90) scale(1,1.025)" font-size="31" text-anchor="end">Ala</text>
<text transform="translate(306.84,746.3) rotate(-90) scale(1,1.025)" font-size="31" text-anchor="end">Arg</text>
<text transform="translate(397.3,746.3) rotate(-90) scale(1,1.025)" font-size="31" text-anchor="end">Asn</text>
<text transform="translate(487.76,746.3) rotate(-90) scale(1,1.025)" font-size="31" text-anchor="end">Asp</text>
<text transform="translate(578.22,746.3) rotate(-90) scale(1,1.025)" font-size="31" text-anchor="end">GABA</text>
<text transform="translate(668.68,746.3) rotate(-90) scale(1,1.025)" font-size="31" text-anchor="end">Gln</text>
<text transform="translate(759.14,746.3) rotate(-90) scale(1,1.025)" font-size="31" text-anchor="end">Glu</text>
<text transform="translate(849.6,746.3) rotate(-90) scale(1,1.025)" font-size="31" text-anchor="end">Ser</text>
<text transform="translate(940.06,746.3) rotate(-90) scale(1,1.025)" font-size="31" text-anchor="end">Thea</text>
<text transform="translate(1030.52,751.8) rotate(-90) scale(1,1.025)" font-size="31" text-anchor="end">Total_FAA</text>
<text transform="translate(1120.98,746.3) rotate(-90) scale(1,1.025)" font-size="31" text-anchor="end">C</text>
<text transform="translate(1211.44,746.3) rotate(-90) scale(1,1.025)" font-size="31" text-anchor="end">EC</text>
<text transform="translate(1301.9,746.3) rotate(-90) scale(1,1.025)" font-size="31" text-anchor="end">ECG</text>
<text transform="translate(1392.36,746.3) rotate(-90) scale(1,1.025)" font-size="31" text-anchor="end">EGC</text>
<text transform="translate(1482.82,746.3) rotate(-90) scale(1,1.025)" font-size="31" text-anchor="end">EGCG</text>
<text transform="translate(1573.28,746.3) rotate(-90) scale(1,1.025)" font-size="31" text-anchor="end">EGCG3Me</text>
<text transform="translate(1663.74,746.3) rotate(-90) scale(1,1.025)" font-size="31" text-anchor="end">GC</text>
<text transform="translate(1754.2,749.9) rotate(-90) scale(1,1.025)" font-size="31" text-anchor="end">Total_Catechins</text>
<text transform="translate(1844.66,746.3) rotate(-90) scale(1,1.025)" font-size="31" text-anchor="end">Caffeine</text>
<text transform="translate(1935.12,746.3) rotate(-90) scale(1,1.025)" font-size="31" text-anchor="end">Chl</text>
<text transform="translate(1054.1,999.5) scale(1,1.025)" font-size="34.4" text-anchor="middle">Phenotypes</text>
<text transform="translate(29.9,373.3) rotate(-90) scale(1,1.025)" font-size="41.2" text-anchor="middle">Prediction accuracy (<tspan font-style="italic">r</tspan>)</text>
<text transform="translate(236.6,40.35) scale(1,1.025)" font-size="30.5" text-anchor="start">GBLUP(RR)</text>
<text transform="translate(236.6,77.65) scale(1,1.025)" font-size="30.5" text-anchor="start">GBLUP(GAUSS)</text>
<text transform="translate(236.6,114.95) scale(1,1.025)" font-size="30.5" text-anchor="start">Ridge</text>
<text transform="translate(236.6,152.25) scale(1,1.025)" font-size="30.5" text-anchor="start">Lasso</text>
<text transform="translate(236.6,189.55) scale(1,1.025)" font-size="30.5" text-anchor="start">Elastic Net</text>
<text transform="translate(236.6,226.85) scale(1,1.025)" font-size="30.5" text-anchor="start">Random Forest</text>
</g>
<text transform="translate(819.8,60.5) scale(1,1.025)" font-size="41" text-anchor="middle" font-style="italic" fill="#ED7D31" stroke="#ED7D31" stroke-width="0.3">Free amino acids</text>
<text transform="translate(1630.5,60.9) scale(1,1.025)" font-size="41" text-anchor="middle" font-style="italic" fill="#00B050" stroke="#00B050" stroke-width="0.3">Catechins</text>
<rect x="185.3" y="13" width="32.8" height="32.8" fill="#00204D"/>
<rect x="185.3" y="50.3" width="32.8" height="32.8" fill="#31446B"/>
<rect x="185.3" y="87.6" width="32.8" height="32.8" fill="#666970"/>
<rect x="185.3" y="124.9" width="32.8" height="32.8" fill="#958F78"/>
<rect x="185.3" y="162.2" width="32.8" height="32.8" fill="#CBBA69"/>
<rect x="185.3" y="199.5" width="32.8" height="32.8" fill="#FFEA46"/>
</svg></body></html>
